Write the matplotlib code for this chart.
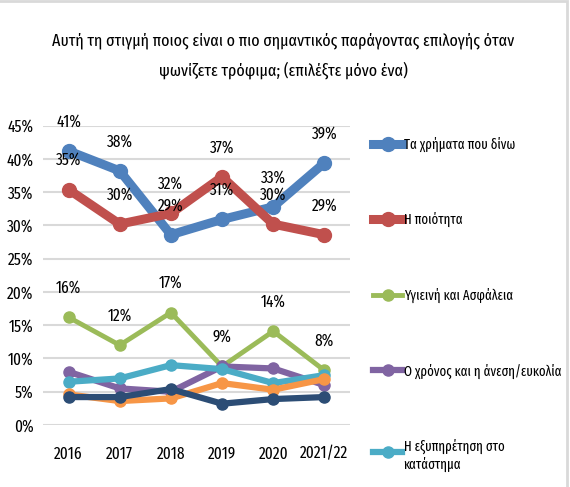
import matplotlib
matplotlib.use('Agg')
import matplotlib.pyplot as plt
from matplotlib.lines import Line2D
from matplotlib.patches import Rectangle
from matplotlib.legend_handler import HandlerLine2D

plt.rcParams['font.family'] = ['Fira Sans Extra Condensed', 'DejaVu Sans']

# data
years = ['2016', '2017', '2018', '2019', '2020', '2021/22']
money = [41.2, 38.2, 28.6, 30.9, 32.8, 39.4]
quality = [35.4, 30.2, 31.8, 37.3, 30.2, 28.6]
safety = [16.2, 12.0, 16.9, 8.8, 14.1, 8.2]
time_ease = [8.0, 5.5, 5.0, 8.8, 8.5, 6.0]
service = [6.5, 7.0, 9.0, 8.4, 6.3, 7.5]
orange_s = [4.6, 3.6, 4.0, 6.3, 5.3, 6.9]
navy_s = [4.2, 4.2, 5.4, 3.2, 3.9, 4.2]

title = ('Αυτή τη στιγμή ποιος είναι ο πιο σημαντικός παράγοντας επιλογής όταν\n'
         'ψωνίζετε τρόφιμα; (επιλέξτε μόνο ένα)')
names = ['Τα χρήματα που δίνω', 'Η ποιότητα', 'Υγιεινή και Ασφάλεια',
         'Ο χρόνος και η άνεση/ευκολία', 'Η εξυπηρέτηση στο\nκατάστημα']

series = [
    (money, '#4F81BD', 6.5, 10, True),
    (quality, '#C0504D', 6.5, 10, True),
    (safety, '#9BBB59', 3.5, 8, True),
    (time_ease, '#8064A2', 4.5, 8, False),
    (service, '#4BACC6', 4.5, 8, False),
    (orange_s, '#F79646', 4.5, 8, False),
    (navy_s, '#2C4D75', 4.5, 8, False),
]


class FirstLineHandler(HandlerLine2D):
    # put the handle next to the first line of a two-line label
    def create_artists(self, legend, orig_handle, xdescent, ydescent, width,
                       height, fontsize, trans):
        return super().create_artists(legend, orig_handle, xdescent,
                                      ydescent - 0.62 * fontsize, width, height,
                                      fontsize, trans)


fig = plt.figure(figsize=(5.7, 4.87), dpi=100)
ax = fig.add_axes([0.0754, 0.1273, 0.5386, 0.6147])

x = list(range(len(years)))
for vals, col, lw, ms, lab in series:
    ax.plot(x, [v / 100 for v in vals], color=col, lw=lw, marker='o', ms=ms,
            solid_joinstyle='round', solid_capstyle='round')
    if lab:
        for xi, v in zip(x, vals):
            ax.annotate('%d%%' % round(v), (xi, v / 100), xytext=(0, 21),
                        textcoords='offset points', ha='center', va='center',
                        fontsize=12, color='black', zorder=10)

ax.set_xlim(-0.5, len(years) - 0.5)
ax.set_ylim(0, 0.45)
ax.set_yticks([i * 0.05 for i in range(10)])
ax.set_yticklabels(['%d%%' % (i * 5) for i in range(10)])
ax.set_xticks(x)
ax.set_xticklabels(years)
ax.tick_params(axis='both', length=0, labelsize=12)
ax.tick_params(axis='x', pad=15)
ax.tick_params(axis='y', pad=7)
ax.grid(axis='y', color='#D9D9D9', lw=1.5)
ax.set_axisbelow(True)
for s in ax.spines.values():
    s.set_visible(False)

fig.text(0.497, 0.886, title, ha='center', va='center', fontsize=12.5,
         linespacing=1.85)

handles = [Line2D([], [], color=c, lw=lw, marker='o', ms=ms)
           for (_, c, lw, ms, _) in series[:5]]
fig.legend(handles, names, loc='upper left', bbox_to_anchor=(0.645, 0.731),
           frameon=False, fontsize=10, handlelength=2.1, handletextpad=0.1,
           labelspacing=4.35, borderaxespad=0,
           handler_map={handles[4]: FirstLineHandler()})

fig.patches.append(Rectangle((-0.01, -0.01), 1.004, 1.008, transform=fig.transFigure,
                             fill=False, edgecolor='#D9D9D9', lw=2))

fig.savefig('out.png', dpi=100)
